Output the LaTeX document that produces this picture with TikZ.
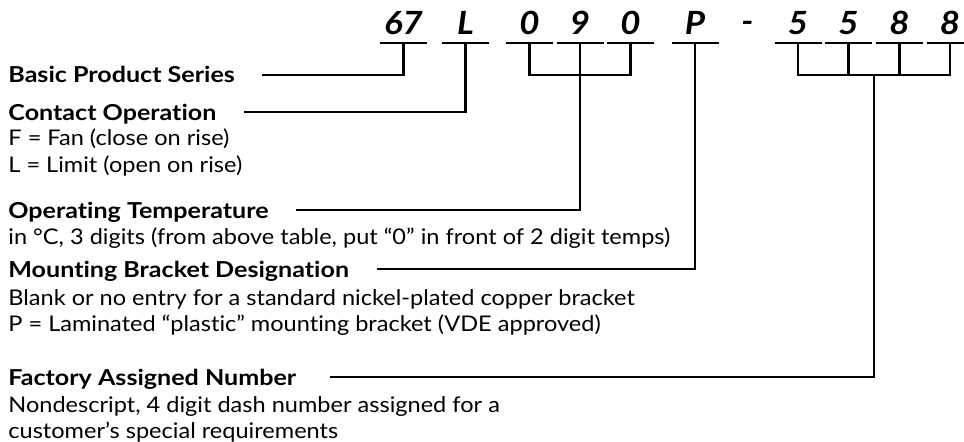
\documentclass[tikz,border=0pt]{standalone}
\usepackage{fontspec}
\setmainfont{Lato}[Ligatures=NoCommon, FakeStretch=1.09]
\newfontfamily\headfont{Lato}[Ligatures=NoCommon, FakeStretch=1.14]
\usetikzlibrary{calc}

\tikzset{
  heading/.style={anchor=base west, inner sep=0pt, font=\headfont\bfseries\fontsize{11}{13}\selectfont},
  descr/.style={anchor=base west, inner sep=0pt, font=\fontsize{10.8}{13}\selectfont},
  codechar/.style={anchor=base, inner sep=0pt, font=\bfseries\itshape\fontsize{16}{19}\selectfont},
  underline/.style={line width=1.4pt},
  lead/.style={line width=1.1pt},
}

\begin{document}
\begin{tikzpicture}[x=0.5pt,y=-0.5pt]
        \useasboundingbox (0,0) rectangle (964,441);

        % part number
        \node[codechar] (c67) at (403.5,34) {67};
        \node[codechar] (cL) at (465.5,34) {L};
        \node[codechar] (c0a) at (529.5,34) {0};
        \node[codechar] (c9) at (580,34) {9};
        \node[codechar] (c0b) at (630.5,34) {0};
        \node[codechar] (cP) at (695,34) {P};
        \node[codechar, anchor=north] (cdash) at (747.5,20.5) {-};
        \node[codechar] (c5a) at (798,34) {5};
        \node[codechar] (c5b) at (848.5,34) {5};
        \node[codechar] (c8a) at (899.5,34) {8};
        \node[codechar] (c8b) at (950,34) {8};

        % underlines
        \foreach \c in {67,L,0a,9,0b,P,5a,5b,8a,8b} {
            \coordinate (u\c) at ($(c\c.base) + (0,9)$);
            \draw[underline] ($(u\c) + (-23.5,0)$) -- ($(u\c) + (23.5,0)$);
        }

        % headings
        \node[heading] (basic) at (8,82) {Basic Product Series};
        \node[heading] (contact) at (8,120) {Contact Operation};
        \node[heading] (optemp) at (8,218) {Operating Temperature};
        \node[heading] (mount) at (8,277) {Mounting Bracket Designation};
        \node[heading] (factory) at (8,385) {Factory Assigned Number};

        % descriptions
        \node[descr] (fan) at ($(contact.base west) + (0,25)$) {F = Fan (close on rise)};
        \node[descr] (limit) at ($(fan.base west) + (0,27)$) {L = Limit (open on rise)};
        \node[descr] (degc) at ($(optemp.base west) + (0,26)$) {in °C, 3 digits (from above table, put “0” in front of 2 digit temps)};
        \node[descr] (blank) at ($(mount.base west) + (0,28)$) {Blank or no entry for a standard nickel-plated copper bracket};
        \node[descr] (lam) at ($(blank.base west) + (0,26)$) {P = Laminated “plastic” mounting bracket (VDE approved)};
        \node[descr] (nondesc) at ($(factory.base west) + (0,27)$) {Nondescript, 4 digit dash number assigned for a};
        \node[descr] (cust) at ($(nondesc.base west) + (0,26)$) {customer’s special requirements};

        % groups of digits
        \draw[lead] (u0a) -- ++(0,32) -| (u0b);
        \draw[lead] (u5a) -- ++(0,32) -| (u8b);
        \draw[lead] (u5b) -- ++(0,32);
        \draw[lead] (u8a) -- ++(0,32);
        \coordinate (join) at ($(u5b)!0.5!(u8a) + (0,32)$);

        % headings to part number
        \draw[lead] ($(basic.base east) + (27,-7)$) -| (u67);
        \draw[lead] ($(contact.base east) + (27,-8)$) -| (uL);
        \draw[lead] ($(optemp.base east) + (27,-8)$) -| (u9);
        \draw[lead] ($(mount.base east) + (28,-8)$) -| (uP);
        \draw[lead] ($(factory.base east) + (33,-8)$) -| (join);

    \end{tikzpicture}
\end{document}
